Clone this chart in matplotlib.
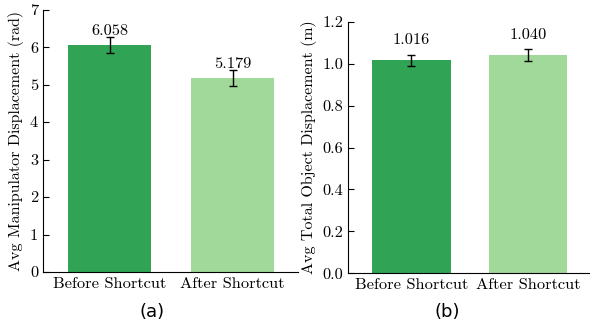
import matplotlib
matplotlib.use("Agg")
import matplotlib.pyplot as plt

categories = ["Before Shortcut", "After Shortcut"]
manip_vals = [6.058, 5.179]
manip_err = [0.225, 0.22]
obj_vals = [1.016, 1.040]
obj_err = [0.027, 0.028]
colors = ["#31a354", "#a1d99b"]

plt.rcParams["font.family"] = ["cmr10"]
plt.rcParams["mathtext.fontset"] = "cm"
plt.rcParams["axes.formatter.use_mathtext"] = True

W, H = 590, 324
fig = plt.figure(figsize=(W / 100, H / 100), dpi=100)

def box(x0, x1, ytop, ybot):
    return [x0 / W, 1 - ybot / H, (x1 - x0) / W, (ybot - ytop) / H]

ax1 = fig.add_axes(box(43, 298, 9.7, 272))
ax2 = fig.add_axes(box(348, 590, 21.7, 273.3))

def draw(ax, vals, errs, ylim, yticks, fmt, ylabel, off):
    x = list(range(len(categories)))
    ax.bar(x, vals, width=0.675, color=colors, zorder=2)
    ax.errorbar(x, vals, yerr=errs, fmt="none", ecolor="black",
                elinewidth=1.0, capsize=3.2, capthick=1.0, zorder=3)
    for xi, v, e in zip(x, vals, errs):
        ax.annotate(f"{v:.3f}", (xi, v + e), xytext=(0, off),
                    textcoords="offset points", ha="center", va="bottom",
                    fontsize=11.8)
    ax.set_xlim(-0.54, 1.53)
    ax.set_ylim(*ylim)
    ax.set_yticks(yticks)
    ax.set_yticklabels([fmt.format(t) for t in yticks])
    ax.set_xticks(x)
    ax.set_xticklabels(categories)
    ax.tick_params(direction="in", labelsize=11.8, length=4, width=0.8)
    ax.spines["top"].set_visible(False)
    ax.spines["right"].set_visible(False)
    ax.set_ylabel(ylabel, fontsize=11.5, labelpad=4)

draw(ax1, manip_vals, manip_err, (0, 7), list(range(0, 8)), "{:d}",
     "Avg Manipulator Displacement (rad)", -1.0)
draw(ax2, obj_vals, obj_err, (0, 1.2), [0.0, 0.2, 0.4, 0.6, 0.8, 1.0, 1.2],
     "{:.1f}", "Avg Total Object Displacement (m)", 5.5)

fig.text(152 / W, 1 - 312 / H, "(a)", ha="center", va="center",
         fontsize=13, family=["DejaVu Sans"])
fig.text(447 / W, 1 - 312 / H, "(b)", ha="center", va="center",
         fontsize=13, family=["DejaVu Sans"])

fig.savefig("out.png", dpi=100)
